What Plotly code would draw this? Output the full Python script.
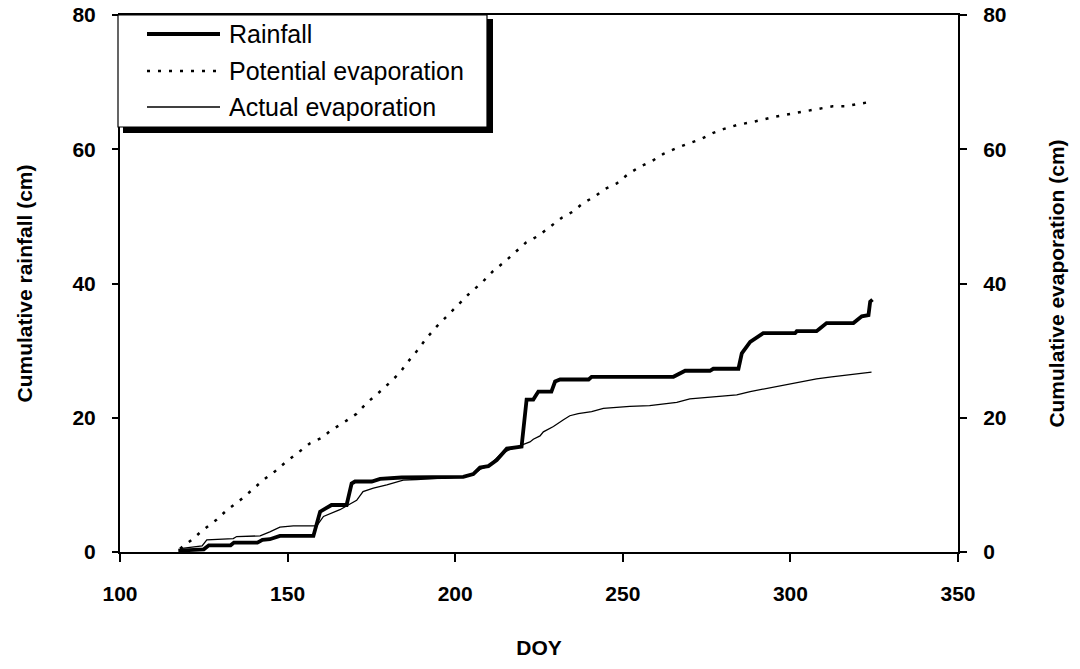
import plotly.graph_objects as go

# ---------------- data ----------------
rain_doy = [117.4, 125.0, 126.5, 133.0, 134.0, 141.0, 142.5, 144.7, 147.7, 157.7,
            159.7, 163.1, 167.6, 169.1, 170.1, 175.1, 177.6, 184.0, 202.4, 205.4,
            207.4, 209.9, 212.4, 215.4, 219.8, 221.3, 223.3, 224.8, 228.7, 229.8,
            231.3, 239.8, 240.7, 265.1, 268.6, 276.0, 277.0, 284.5, 285.5, 288.0,
            291.9, 301.4, 301.9, 307.8, 308.8, 310.8, 318.8, 321.3, 323.3, 323.8, 324.5]
rain_cm = [0.2, 0.4, 1.0, 1.0, 1.4, 1.4, 1.8, 1.9, 2.4, 2.4,
           6.0, 7.0, 7.0, 10.2, 10.5, 10.5, 10.9, 11.1, 11.2, 11.6,
           12.6, 12.8, 13.7, 15.4, 15.7, 22.7, 22.7, 23.9, 23.9, 25.4,
           25.7, 25.7, 26.1, 26.1, 27.0, 27.0, 27.3, 27.3, 29.6, 31.3,
           32.6, 32.6, 32.9, 32.9, 33.3, 34.1, 34.1, 35.1, 35.3, 37.3, 37.6]

pot_doy = [117.9, 121.4, 124.8, 128.8, 132.0, 135.8, 139.3, 142.7, 146.2, 149.7,
           153.4, 156.7, 160.2, 163.1, 166.5, 170.6, 173.6, 178.5, 183.5, 185.5,
           188.5, 191.5, 194.5, 197.9, 200.8, 204.4, 207.9, 211.2, 214.9, 217.8,
           221.1, 224.8, 228.3, 231.8, 235.1, 238.2, 241.5, 244.7, 248.2, 251.6,
           255.1, 258.9, 262.1, 266.1, 269.8, 273.3, 276.8, 280.0, 284.0, 287.4,
           290.9, 294.9, 298.4, 301.9, 305.3, 309.0, 312.6, 316.3, 319.8, 323.2]
pot_cm = [0.5, 1.8, 3.3, 4.8, 6.3, 7.7, 9.2, 10.7, 12.0, 13.5,
          14.9, 16.2, 17.0, 18.2, 19.2, 20.6, 22.2, 24.3, 26.7, 28.1,
          29.9, 31.9, 33.6, 35.3, 36.8, 38.6, 40.1, 41.8, 43.3, 44.6,
          46.1, 47.1, 48.5, 49.8, 50.7, 52.0, 52.9, 54.1, 54.9, 56.3,
          57.4, 58.3, 59.3, 60.2, 60.9, 61.5, 62.4, 63.0, 63.6, 63.9,
          64.3, 64.8, 65.1, 65.5, 65.8, 66.1, 66.4, 66.4, 66.7, 67.0]

act_doy = [117.9, 124.5, 125.9, 133.8, 134.8, 141.8, 144.7, 147.7, 151.7, 158.7,
           160.7, 162.7, 165.6, 168.1, 170.6, 172.5, 175.6, 179.6, 184.5, 188.5,
           195.0, 202.0, 205.4, 207.4, 210.0, 213.4, 216.0, 219.8, 222.3, 223.3,
           225.3, 226.3, 229.3, 232.3, 234.2, 236.7, 240.7, 244.2, 252.1, 258.0,
           261.1, 266.1, 270.0, 277.5, 284.0, 288.0, 293.0, 297.9, 302.9, 307.8,
           312.3, 317.8, 324.2]
act_cm = [0.5, 0.9, 1.8, 2.0, 2.3, 2.4, 3.0, 3.7, 3.9, 3.9,
          5.3, 5.7, 6.3, 7.0, 7.7, 9.0, 9.5, 10.0, 10.7, 10.8,
          11.0, 11.2, 11.5, 12.3, 12.8, 14.5, 15.2, 15.9, 16.4, 16.8,
          17.3, 17.9, 18.7, 19.7, 20.3, 20.6, 20.9, 21.4, 21.7, 21.8,
          22.0, 22.3, 22.8, 23.1, 23.4, 23.9, 24.4, 24.9, 25.4, 25.8,
          26.1, 26.4, 26.8]

x_ticks = [100, 150, 200, 250, 300, 350]
y_ticks = [0, 20, 40, 60, 80]
series_names = ["Rainfall", "Potential evaporation", "Actual evaporation"]

FONT = "Liberation Sans, Arial, sans-serif"

fig = go.Figure()
fig.add_trace(go.Scatter(x=pot_doy, y=pot_cm, name=series_names[1], mode="lines",
                         line=dict(color="black", width=2.5, dash="3px,8px"),
                         yaxis="y2", showlegend=False))
fig.add_trace(go.Scatter(x=act_doy, y=act_cm, name=series_names[2], mode="lines",
                         line=dict(color="black", width=1.3),
                         yaxis="y2", showlegend=False))
fig.add_trace(go.Scatter(x=rain_doy, y=rain_cm, name=series_names[0], mode="lines",
                         line=dict(color="black", width=3.8),
                         yaxis="y", showlegend=False))

tickfont = dict(family=FONT, size=21, color="black", weight="bold")
titlefont = dict(family=FONT, size=21, color="black", weight="bold")

fig.update_layout(
    width=1080, height=669,
    margin=dict(l=120, r=122, t=15, b=117, autoexpand=False),
    plot_bgcolor="white", paper_bgcolor="white",
    xaxis=dict(range=[100, 350], tickvals=x_ticks, ticks="outside", ticklen=8,
               tickwidth=1.5, tickcolor="black", showline=True, linewidth=2,
               linecolor="black", mirror=True, showgrid=False, zeroline=False,
               tickfont=tickfont, ticklabelstandoff=14, automargin=False,
               title=dict(text="DOY", font=titlefont, standoff=36)),
    yaxis=dict(range=[0, 80], tickvals=y_ticks, ticks="outside", ticklen=6,
               tickwidth=1.5, tickcolor="black", showline=True, linewidth=2,
               linecolor="black", showgrid=False, zeroline=False,
               tickfont=tickfont, ticklabelstandoff=12, automargin=False,
               title=dict(text="Cumulative rainfall (cm)", font=titlefont, standoff=34)),
    yaxis2=dict(range=[0, 80], tickvals=y_ticks, ticks="outside", ticklen=7,
                tickwidth=1.5, tickcolor="black", showline=True, linewidth=2,
                linecolor="black", showgrid=False, zeroline=False,
                overlaying="y", side="right", automargin=False,
                tickfont=tickfont, ticklabelstandoff=12,
                title=dict(text="Cumulative evaporation (cm)", font=titlefont, standoff=44)),
)

# ---- legend box (drawn like the original: framed box with drop shadow) ----
W, H = 838.0, 537.0
def px(x):
    return (x - 120) / W
def py(y):
    return (552 - y) / H

shapes = [
    dict(type="rect", xref="paper", yref="paper", x0=px(123), x1=px(493),
         y0=py(133), y1=py(19), fillcolor="black", line=dict(width=0), layer="above"),
    dict(type="rect", xref="paper", yref="paper", x0=px(118), x1=px(487),
         y0=py(127), y1=py(15), fillcolor="white", line=dict(color="black", width=1.2),
         layer="above"),
]
rows = [34, 71, 107]
styles = [dict(color="black", width=3.8), dict(color="black", width=2.5, dash="3px,8px"),
          dict(color="black", width=1.3)]
annotations = []
for name, yrow, st in zip(series_names, rows, styles):
    shapes.append(dict(type="line", xref="paper", yref="paper", x0=px(147), x1=px(220),
                       y0=py(yrow), y1=py(yrow), line=st, layer="above"))
    annotations.append(dict(text=name, xref="paper", yref="paper", x=px(227), y=py(yrow),
                            xanchor="left", yanchor="middle", showarrow=False,
                            font=dict(family=FONT, size=25, color="black")))
fig.update_layout(shapes=shapes, annotations=annotations)

fig.write_html("out.html")
